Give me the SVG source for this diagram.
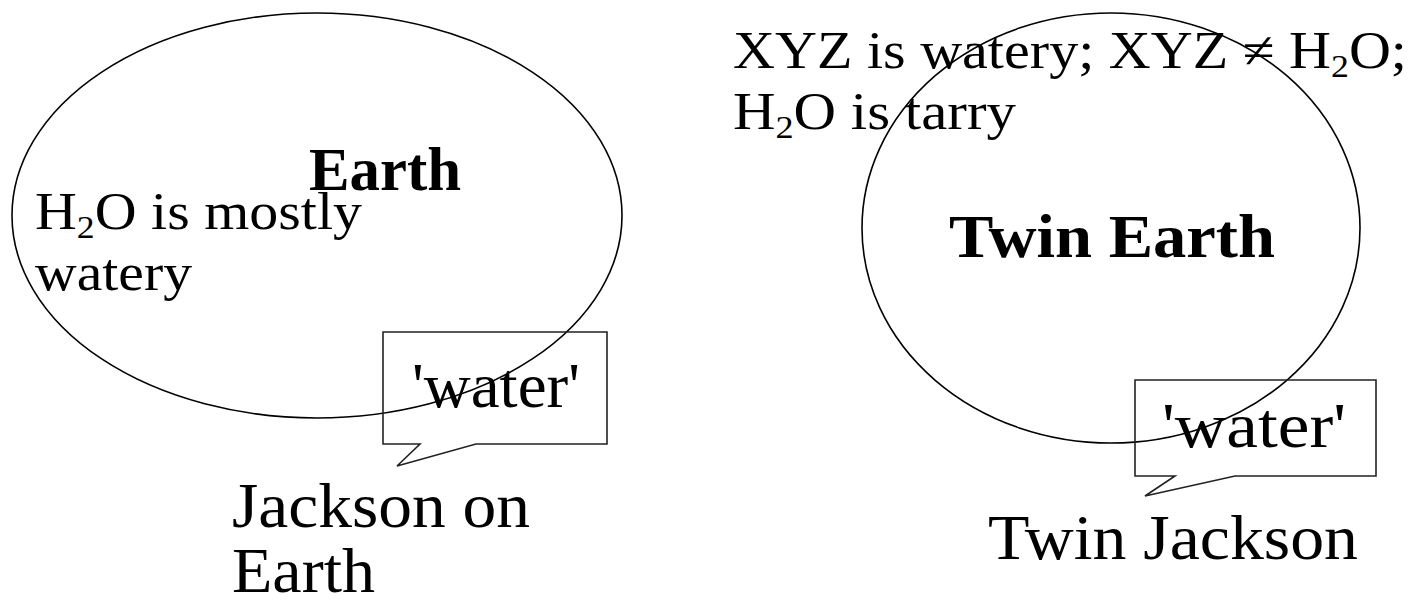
<svg xmlns="http://www.w3.org/2000/svg" width="1415" height="606" viewBox="0 0 1415 606">
  <style>
    .world { fill: none; stroke: #000; stroke-width: 1.6; }
    .bubble { fill: none; stroke: #222; stroke-width: 1.6; stroke-linejoin: miter; }
    text { font-family: "Liberation Serif", "Times New Roman", serif; fill: #000; }
    .title { font-weight: bold; font-size: 61px; }
    .fact { font-size: 52px; }
    .sub { font-size: 32px; }
    .word { font-size: 64px; }
    .who { font-size: 64px; }
  </style>
  <rect width="1415" height="606" fill="#fff"/>

  <!-- Earth -->
  <g id="earth">
    <ellipse class="world" cx="317" cy="215.5" rx="305" ry="202.5"/>
    <text class="title" x="309" y="190" textLength="152" lengthAdjust="spacingAndGlyphs">Earth</text>
    <text class="fact" x="35" y="229" textLength="327" lengthAdjust="spacingAndGlyphs">H<tspan class="sub" dy="9">2</tspan><tspan dy="-9">O is mostly</tspan></text>
    <text class="fact" x="35" y="290" textLength="157" lengthAdjust="spacingAndGlyphs">watery</text>
  </g>

  <!-- Jackson's utterance on Earth -->
  <g id="jackson">
    <path class="bubble" d="M383 332 H607 V444 H476 L397 466 L420 444 H383 Z"/>
    <text class="word" x="412" y="407" textLength="168" lengthAdjust="spacingAndGlyphs">'water'</text>
    <text class="who" x="232" y="527" textLength="298" lengthAdjust="spacingAndGlyphs">Jackson on</text>
    <text class="who" x="232" y="592" textLength="143" lengthAdjust="spacingAndGlyphs">Earth</text>
  </g>

  <!-- Twin Earth -->
  <g id="twin-earth">
    <ellipse class="world" cx="1111" cy="228" rx="249" ry="215"/>
    <text class="fact" x="733" y="68" textLength="674" lengthAdjust="spacingAndGlyphs">XYZ is watery; XYZ ≠ H<tspan class="sub" dy="9">2</tspan><tspan dy="-9">O;</tspan></text>
    <text class="fact" x="733" y="129" textLength="283" lengthAdjust="spacingAndGlyphs">H<tspan class="sub" dy="9">2</tspan><tspan dy="-9">O is tarry</tspan></text>
    <text class="title" x="949" y="257" textLength="326" lengthAdjust="spacingAndGlyphs">Twin Earth</text>
  </g>

  <!-- Twin Jackson's utterance -->
  <g id="twin-jackson">
    <path class="bubble" d="M1135 380 H1376 V476 H1235 L1145 496 L1175 476 H1135 Z"/>
    <text class="word" x="1162" y="447" textLength="184" lengthAdjust="spacingAndGlyphs">'water'</text>
    <text class="who" x="988" y="559" textLength="370" lengthAdjust="spacingAndGlyphs">Twin Jackson</text>
  </g>

  <g id="connectors"/>
</svg>
